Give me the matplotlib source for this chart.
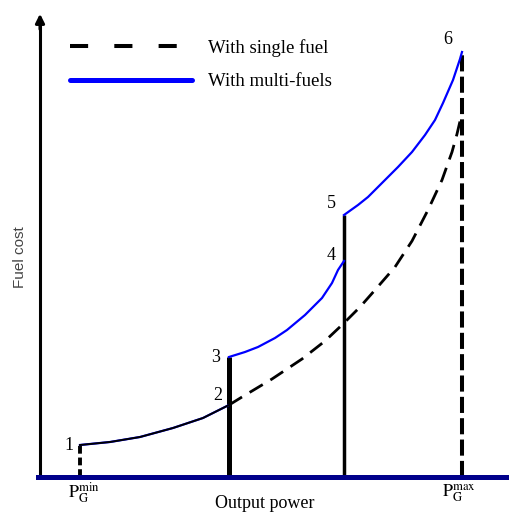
import matplotlib
matplotlib.use("Agg")
import matplotlib.pyplot as plt
from matplotlib.lines import Line2D

plt.rcParams["font.family"] = ["Liberation Serif", "DejaVu Serif"]
plt.rcParams["mathtext.fontset"] = "stix"

# data (output power on x, fuel cost on y, arbitrary units)
single_x = [40, 70, 100, 133, 163, 189, 202, 232, 262, 285, 303, 320, 335, 355, 372, 388, 402, 412, 417, 421]
single_y = [32, 35, 40, 49, 59, 72, 80, 98, 118, 136, 153, 170, 187, 210, 236, 267, 297, 325, 343, 360]

multi_a_x = [40, 70, 100, 133, 163, 189]
multi_a_y = [32, 35, 40, 49, 59, 72]
multi_b_x = [189, 205, 218, 235, 247, 265, 282, 292, 298, 304]
multi_b_y = [120, 125, 130, 139, 147, 162, 179, 194, 207, 216]
multi_c_x = [304, 318, 328, 343, 358, 372, 385, 395, 403, 413, 420, 422]
multi_c_y = [262, 272, 280, 295, 310, 325, 342, 357, 374, 397, 418, 425]

# numbered points 1..6 and where their labels sit (pixel offsets)
pt_x = [40, 189, 189, 304, 304, 422]
pt_y = [32, 72, 120, 216, 262, 425]
pt_labels = ["1", "2", "3", "4", "5", "6"]
label_off = [(-11, -1), (-11, 10), (-13, 0), (-13, 6), (-13, 11), (-14, 12)]

blue = "#0000ff"
navy = "#00008b"

fig = plt.figure(figsize=(5.1, 5.12), dpi=100)
ax = fig.add_axes([0, 0, 1, 1])
ax.set_xlim(-40, 470)
ax.set_ylim(-35, 477)
ax.set_xticks([])
ax.set_yticks([])
for s in ["top", "right"]:
    ax.spines[s].set_visible(False)
ax.spines["left"].set_position(("data", 0))
ax.spines["bottom"].set_position(("data", 0))
ax.spines["left"].set_bounds(0, 455)
ax.spines["left"].set_linewidth(2.2)
ax.spines["bottom"].set_bounds(-2, 470)
ax.spines["bottom"].set_linewidth(3.6)
ax.spines["bottom"].set_color(navy)
ax.annotate("", xy=(0, 466), xytext=(0, 445),
            arrowprops=dict(arrowstyle="-|>", color="k", lw=2.2, mutation_scale=13))

# vertical drops at the breakpoints
ax.vlines(pt_x[0], 0, pt_y[0], colors="k", lw=2.8, linestyles=(0, (2, 1)))
ax.vlines(pt_x[1], 0, pt_y[2], colors="k", lw=3.6)
ax.vlines(pt_x[3], 0, pt_y[4], colors="k", lw=2.5)
ax.vlines(pt_x[5], 0, pt_y[5], colors="k", lw=2.9, linestyles=(0, (4, 1.3)))

# curves
for xs, ys in [(multi_a_x, multi_a_y), (multi_b_x, multi_b_y), (multi_c_x, multi_c_y)]:
    ax.plot(xs, ys, color=blue, lw=1.6)
ax.plot(single_x[:6], single_y[:6], color="k", lw=1.4)
ax.plot(single_x[5:], single_y[5:], color="k", lw=2.0, dashes=(5.5, 3.2))

for x, y, t, off in zip(pt_x, pt_y, pt_labels, label_off):
    ax.annotate(t, (x, y), xytext=off, textcoords="offset pixels",
                ha="center", va="center", fontsize=13)

ax.text(pt_x[0] - 12, -16, r"$\mathrm{P_G^{min}}$", fontsize=13, ha="left", va="center")
ax.text(pt_x[5] - 20, -16, r"$\mathrm{P_G^{max}}$", fontsize=13, ha="left", va="center")
ax.text(225, -26, "Output power", fontsize=13, ha="center", va="center")
ax.text(-20, 220, "Fuel cost", fontsize=11, rotation=90, ha="center", va="center",
        family=["Liberation Sans"], color="#444444")

handles = [Line2D([], [], color="k", lw=2.9, dashes=(4.5, 6.5)),
           Line2D([], [], color=blue, lw=3.6, solid_capstyle="round")]
ax.legend(handles, ["With single fuel", "With multi-fuels"], loc="upper left",
          bbox_to_anchor=(70 / 510, 1 - 39 / 512), frameon=False, fontsize=13.5,
          handlelength=6.5, handletextpad=0.85, labelspacing=0.86, borderpad=0,
          borderaxespad=0)

fig.savefig("out.png", dpi=100)
